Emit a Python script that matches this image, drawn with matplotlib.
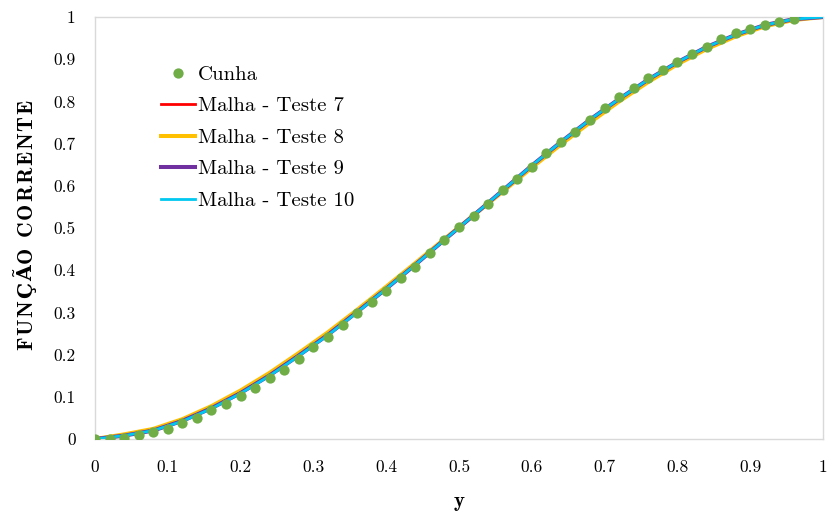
import matplotlib
matplotlib.use("Agg")
import matplotlib.pyplot as plt

plt.rcParams['font.family'] = ['cmr10', 'DejaVu Serif']
plt.rcParams['axes.formatter.use_mathtext'] = True

# pontos da solucao de cunha
y_cunha = [0.00, 0.02, 0.04, 0.06, 0.08, 0.10, 0.12, 0.14, 0.16, 0.18,
           0.20, 0.22, 0.24, 0.26, 0.28, 0.30, 0.32, 0.34, 0.36, 0.38,
           0.40, 0.42, 0.44, 0.46, 0.48, 0.50, 0.52, 0.54, 0.56, 0.58,
           0.60, 0.62, 0.64, 0.66, 0.68, 0.70, 0.72, 0.74, 0.76, 0.78,
           0.80, 0.82, 0.84, 0.86, 0.88, 0.90, 0.92, 0.94, 0.96]
psi_cunha = [0.000, 0.001, 0.003, 0.009, 0.016, 0.024, 0.037, 0.049, 0.068, 0.083,
             0.103, 0.120, 0.145, 0.163, 0.190, 0.217, 0.242, 0.270, 0.298, 0.325,
             0.351, 0.381, 0.408, 0.440, 0.472, 0.503, 0.528, 0.558, 0.590, 0.615,
             0.645, 0.677, 0.705, 0.728, 0.756, 0.785, 0.810, 0.832, 0.856, 0.874,
             0.893, 0.912, 0.930, 0.948, 0.961, 0.971, 0.981, 0.989, 0.995]

# malhas
y_malha = [0.00, 0.04, 0.08, 0.12, 0.16, 0.20, 0.24, 0.28, 0.32, 0.36, 0.40, 0.44, 0.48,
           0.52, 0.56, 0.60, 0.64, 0.68, 0.72, 0.76, 0.80, 0.84, 0.88, 0.92, 0.96, 1.00]
psi_t7 = [0.000, 0.009, 0.021, 0.044, 0.074, 0.110, 0.152, 0.199, 0.248, 0.302, 0.357, 0.414, 0.472,
          0.530, 0.588, 0.647, 0.703, 0.756, 0.805, 0.851, 0.892, 0.928, 0.957, 0.980, 0.995, 1.000]
psi_t8 = [0.000, 0.011, 0.024, 0.047, 0.078, 0.115, 0.157, 0.204, 0.253, 0.306, 0.361, 0.417, 0.474,
          0.530, 0.586, 0.643, 0.698, 0.750, 0.800, 0.846, 0.888, 0.924, 0.954, 0.978, 0.993, 1.000]
psi_t9 = [0.000, 0.008, 0.020, 0.043, 0.073, 0.109, 0.151, 0.198, 0.247, 0.301, 0.356, 0.413, 0.472,
          0.530, 0.589, 0.648, 0.704, 0.757, 0.806, 0.852, 0.893, 0.929, 0.958, 0.981, 0.995, 1.000]
psi_t10 = [0.000, 0.008, 0.020, 0.042, 0.072, 0.108, 0.150, 0.197, 0.246, 0.300, 0.356, 0.413, 0.472,
           0.530, 0.589, 0.648, 0.704, 0.757, 0.806, 0.852, 0.893, 0.929, 0.958, 0.981, 0.995, 1.000]

ticks = [0, 0.1, 0.2, 0.3, 0.4, 0.5, 0.6, 0.7, 0.8, 0.9, 1]
tick_labels = ['0', '0.1', '0.2', '0.3', '0.4', '0.5', '0.6', '0.7', '0.8', '0.9', '1']
ylabel = 'FUNÇÃO CORRENTE'

W, H = 834, 516
fig = plt.figure(figsize=(W / 100, H / 100), dpi=100)
ax = fig.add_axes([0.1139, 0.1492, 0.8729, 0.8178])

ax.plot(y_malha, psi_t7, color='#ff0000', lw=2.0, label='Malha - Teste 7', zorder=2)
ax.plot(y_malha, psi_t8, color='#ffc000', lw=2.9, label='Malha - Teste 8', zorder=2)
ax.plot(y_malha, psi_t9, color='#7030a0', lw=2.9, label='Malha - Teste 9', zorder=3)
ax.plot(y_malha, psi_t10, color='#00c8f0', lw=2.0, label='Malha - Teste 10', zorder=4)
ax.plot(y_cunha, psi_cunha, 'o', color='#70ad47', ms=7.4, mec='none', label='Cunha', zorder=5)

ax.set_xlim(0, 1)
ax.set_ylim(0, 1)
ax.set_xticks(ticks)
ax.set_xticklabels(tick_labels)
ax.set_yticks(ticks)
ax.set_yticklabels(tick_labels)
ax.tick_params(length=0, labelsize=12.5)
ax.tick_params(axis='x', pad=15)
ax.tick_params(axis='y', pad=14)
for s in ax.spines.values():
    s.set_color('#d9d9d9')
    s.set_linewidth(1.0)

ax.set_xlabel('y', fontsize=15, fontweight='bold', family=['cmb10', 'DejaVu Serif'], labelpad=12)

# rotulo vertical letra a letra: o cmb10 nao tem os acentos certos e a fonte
# original e mais larga, entao espacamos um pouco as letras
r = fig.canvas.get_renderer()
size = 15.5
label_len = 250      # px
base_x = 32          # px a partir da esquerda
center_y = 225       # px a partir do topo
letters = []
for ch in ylabel:
    if ch == ' ':
        letters.append((None, size * 100 / 72 * 0.38))
        continue
    acc = ch in 'ÇÃ'
    t = fig.text(0, 0, ch, fontsize=size * 0.94 if acc else size, fontweight='bold',
                 family='DejaVu Serif' if acc else 'cmb10', rotation=90,
                 rotation_mode='anchor', ha='left', va='baseline')
    letters.append((t, t.get_window_extent(r).height))
natural = sum(w for _, w in letters)
track = max(0, (label_len - natural) / (len(letters) - 1))
pos = center_y + (natural + track * (len(letters) - 1)) / 2
for t, w in letters:
    if t is not None:
        t.set_position((base_x / W, (H - pos) / H))
    pos -= w + track

h, l = ax.get_legend_handles_labels()
order = [4, 0, 1, 2, 3]
ax.legend([h[i] for i in order], [l[i] for i in order], loc='upper left',
          bbox_to_anchor=(0.065, 0.93), frameon=False, fontsize=15,
          handlelength=1.65, handletextpad=0.12, labelspacing=0.62)

fig.savefig('out.png', dpi=100)
